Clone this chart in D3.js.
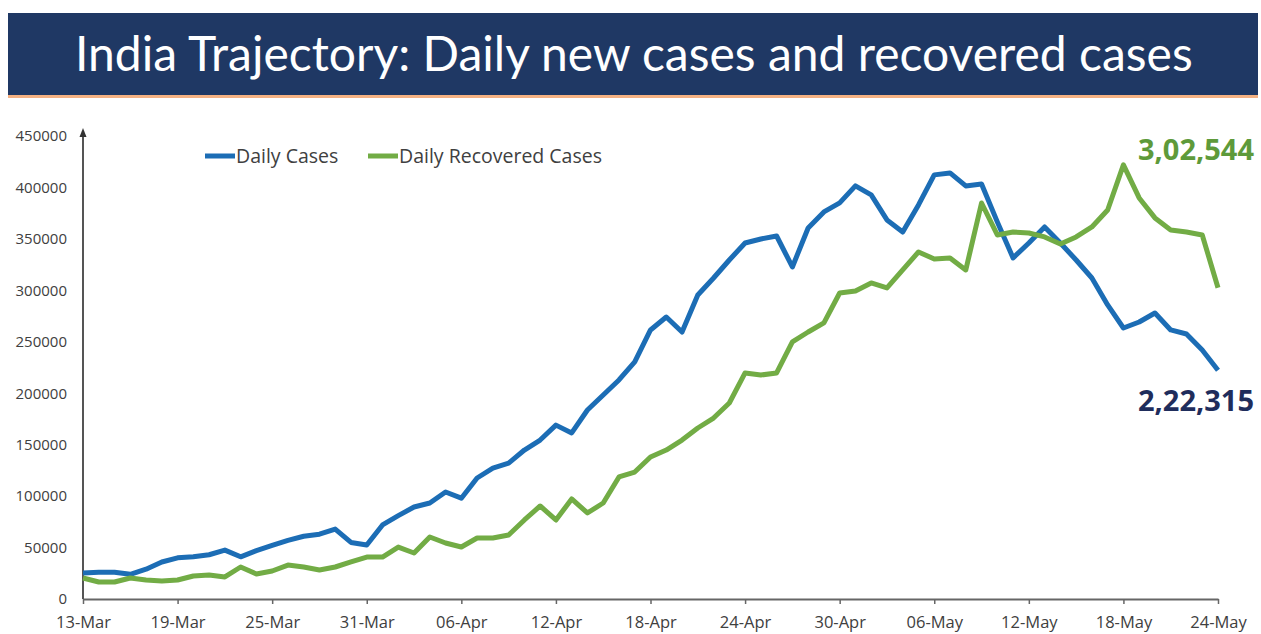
<!DOCTYPE html>
<html>
<head>
<meta charset="utf-8">
<script src="https://cdn.jsdelivr.net/npm/d3@7"></script>
<style>
  html, body { margin: 0; padding: 0; background: #fff; }
  svg { display: block; }
</style>
</head>
<body>
<div id="chart"></div>
<script>
// data (13-Mar to 24-May, one value per day)
const startDay = '2021-03-13';
const endDay = '2021-05-24';
const tickLabels = ['13-Mar', '19-Mar', '25-Mar', '31-Mar', '06-Apr', '12-Apr', '18-Apr',
  '24-Apr', '30-Apr', '06-May', '12-May', '18-May', '24-May'];
const yTicks = [0, 50000, 100000, 150000, 200000, 250000, 300000, 350000, 400000, 450000];

const dailyCases = [
  25300, 26000, 26000, 24000, 29000, 36000, 40000, 41000, 43000, 47500,
  41000, 47000, 52000, 57000, 61000, 63000, 68000, 55000, 52500, 72000,
  81000, 89400, 93300, 104000, 98000, 117600, 127300, 132000, 144800, 154500,
  169000, 161400, 183700, 198300, 212900, 230400, 261500, 274100, 259500, 295500,
  312000, 329500, 346000, 349900, 352800, 322700, 360600, 376200, 385000, 401500,
  392700, 368400, 356700, 383000, 412200, 414100, 401500, 403400, 366500, 331500,
  346000, 361600, 346000, 329500, 312000, 285800, 263400, 269200, 278000, 261500,
  257600, 242000, 222315
];
const dailyRecovered = [
  20400, 16500, 16500, 20400, 18500, 17500, 18500, 22400, 23300, 21400,
  31100, 24300, 27200, 33000, 31100, 28200, 31100, 36000, 40800, 40800,
  50500, 44700, 60300, 54400, 50500, 59300, 59300, 62200, 76800, 90400,
  76800, 97200, 83600, 93300, 118600, 123400, 138000, 144800, 154500, 166200,
  175900, 190500, 219700, 217700, 219700, 249800, 259500, 268300, 297400, 299400,
  307200, 302300, 319800, 337300, 330500, 331500, 319800, 384900, 353800, 356700,
  355700, 351900, 345000, 351900, 361600, 378100, 421900, 389800, 370400, 358700,
  356700, 353800, 302544
];
const seriesNames = ['Daily Cases', 'Daily Recovered Cases'];
const endLabels = ['3,02,544', '2,22,315'];

const W = 1261, H = 634;
const colors = { cases: '#1C6DB5', recovered: '#72AC45', navy: '#1F3864' };

const svg = d3.select('#chart').append('svg')
  .attr('width', W)
  .attr('height', H);

// title banner
svg.append('rect')
  .attr('x', 8).attr('y', 13)
  .attr('width', 1250).attr('height', 83)
  .attr('fill', colors.navy);
svg.append('rect')
  .attr('x', 8).attr('y', 95)
  .attr('width', 1250).attr('height', 3)
  .attr('fill', '#F4B183');
const title = svg.append('text')
  .attr('x', 75).attr('y', 71)
  .attr('fill', '#fff')
  .style('font-family', 'Lato, sans-serif')
  .style('font-size', '50px')
  .text('India Trajectory: Daily new cases and recovered cases');
// size the title so it spans the same width as in the reference
const titleLen = title.node().getComputedTextLength();
title.style('font-size', (50 * 1118 / titleLen).toFixed(1) + 'px');

// scales
const parse = d3.timeParse('%Y-%m-%d');
const days = d3.timeDay.range(parse(startDay), d3.timeDay.offset(parse(endDay), 1));
const xScale = d3.scaleTime().domain([days[0], days[days.length - 1]]).range([83, 1218]);
const yScale = d3.scaleLinear().domain([0, 450000]).range([599, 136]);

const tickDays = days.filter((d, i) => i % 6 === 0);

// x axis
const xAxis = svg.append('g')
  .attr('class', 'axis axis-x')
  .attr('transform', `translate(0, ${yScale(0)})`)
  .call(d3.axisBottom(xScale)
    .tickValues(tickDays)
    .tickFormat((d, i) => tickLabels[i])
    .tickSize(5)
    .tickSizeOuter(0));
xAxis.select('.domain').attr('stroke', '#666').attr('stroke-width', 2);
xAxis.selectAll('.tick line').attr('stroke', '#666').attr('stroke-width', 1.5);
xAxis.selectAll('.tick text')
  .attr('y', 14)
  .attr('dy', '0.9em')
  .attr('fill', '#404040')
  .style('font-family', '"Open Sans", sans-serif')
  .style('font-size', '16.5px');

// y axis
const yAxis = svg.append('g')
  .attr('class', 'axis axis-y')
  .attr('transform', `translate(${xScale(days[0])}, 0)`)
  .call(d3.axisLeft(yScale)
    .tickValues(yTicks)
    .tickFormat(d3.format('d'))
    .tickSize(0)
    .tickPadding(16));
yAxis.select('.domain').remove();
yAxis.selectAll('.tick text')
  .attr('fill', '#404040')
  .style('font-family', '"Open Sans", sans-serif')
  .style('font-size', '15px');
yAxis.append('line')
  .attr('x1', 0).attr('x2', 0)
  .attr('y1', yScale(0)).attr('y2', 134)
  .attr('stroke', '#555').attr('stroke-width', 2);
yAxis.append('path')
  .attr('d', 'M0,128 L-3.5,137 L3.5,137 Z')
  .attr('fill', '#333');

// lines
const line = d3.line()
  .x((d, i) => xScale(days[i]))
  .y(d => yScale(d));

svg.append('path')
  .datum(dailyCases)
  .attr('fill', 'none')
  .attr('stroke', colors.cases)
  .attr('stroke-width', 5)
  .attr('stroke-linejoin', 'round')
  .attr('d', line);

svg.append('path')
  .datum(dailyRecovered)
  .attr('fill', 'none')
  .attr('stroke', colors.recovered)
  .attr('stroke-width', 5)
  .attr('stroke-linejoin', 'round')
  .attr('d', line);

// legend
const legend = svg.append('g').attr('class', 'legend');
const legendItems = [
  { name: seriesNames[0], color: colors.cases, x: 205 },
  { name: seriesNames[1], color: colors.recovered, x: 368 }
];
legendItems.forEach(item => {
  legend.append('line')
    .attr('x1', item.x).attr('x2', item.x + 30)
    .attr('y1', 156).attr('y2', 156)
    .attr('stroke', item.color)
    .attr('stroke-width', 5);
  legend.append('text')
    .attr('x', item.x + 31).attr('y', 163)
    .attr('fill', '#404040')
    .style('font-family', '"Open Sans", sans-serif')
    .style('font-size', '19.5px')
    .text(item.name);
});

// end-value labels
svg.append('text')
  .attr('x', 1254).attr('y', 160)
  .attr('text-anchor', 'end')
  .attr('fill', '#5E9A3A')
  .style('font-family', '"Open Sans", sans-serif')
  .style('font-weight', 'bold')
  .style('font-size', '29px')
  .text(endLabels[0]);
svg.append('text')
  .attr('x', 1254).attr('y', 411)
  .attr('text-anchor', 'end')
  .attr('fill', '#1F2D5C')
  .style('font-family', '"Open Sans", sans-serif')
  .style('font-weight', 'bold')
  .style('font-size', '29px')
  .text(endLabels[1]);
</script>
</body>
</html>
